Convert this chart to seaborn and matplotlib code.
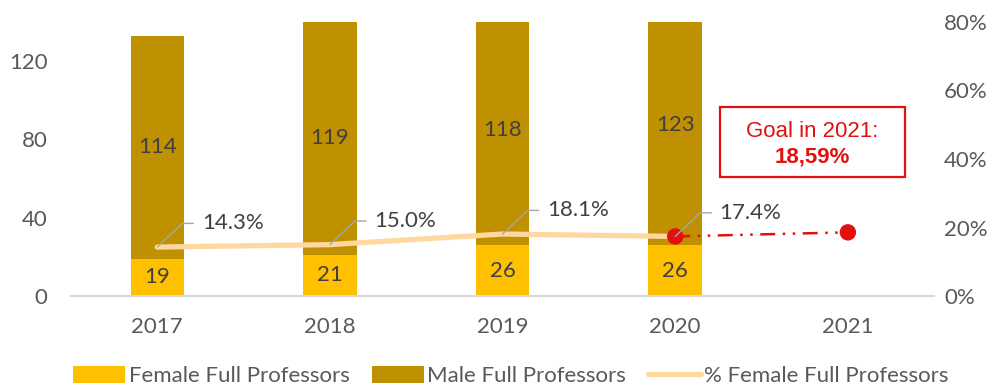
import numpy as np
import pandas as pd
import seaborn as sns
import matplotlib.pyplot as plt
from matplotlib.patches import Patch
from matplotlib.lines import Line2D
from matplotlib.transforms import offset_copy

sns.set_theme(style="white")
plt.rcParams['font.family'] = ['Lato', 'DejaVu Sans']

years = ["2017", "2018", "2019", "2020", "2021"]
bar_years = ["2017", "2018", "2019", "2020"]
female = [19, 21, 26, 26]
male = [114, 119, 118, 123]
pct_female = [0.143, 0.150, 0.181, 0.174]
pct_labels = ["14.3%", "15.0%", "18.1%", "17.4%"]
goal_years = ["2020", "2021"]
goal_pct = [0.174, 0.1859]

FEMALE_C = "#FFC000"
MALE_C = "#BF9000"
LINE_C = "#FFD8A0"
GOAL_C = "#E31010"
TEXT_C = "#595959"
LABEL_C = "#404040"
LEADER_C = "#A6A6A6"
FS = 16

df = pd.DataFrame({"year": bar_years, "female": female, "male": male})
df["total"] = df["female"] + df["male"]

fig = plt.figure(figsize=(9.98, 3.89), dpi=100)
ax = fig.add_axes([0.0711, 0.239, 0.865, 0.7046])

# stacked bars: total (male colour) with the female share drawn over its base
sns.barplot(data=df, x="year", y="total", order=years, color=MALE_C,
            width=0.31, saturation=1, ax=ax, edgecolor="none")
sns.barplot(data=df, x="year", y="female", order=years, color=FEMALE_C,
            width=0.31, saturation=1, ax=ax, edgecolor="none")

ax.set_xlim(-0.5, 4.5)
ax.set_ylim(0, 140)
ax.set_yticks([0, 40, 80, 120])
ax.set_xlabel("")
ax.set_ylabel("")
for s in ["top", "right", "left"]:
    ax.spines[s].set_visible(False)
ax.spines["bottom"].set_color("#D9D9D9")
ax.spines["bottom"].set_linewidth(1.5)
ax.tick_params(axis="y", length=0, pad=17, labelsize=FS, labelcolor=TEXT_C)
ax.tick_params(axis="x", length=0, pad=15, labelsize=FS, labelcolor=TEXT_C)

# value labels inside the bar segments
for i, (f, m) in enumerate(zip(female, male)):
    ax.text(i, f / 2, str(f), ha="center", va="center", fontsize=FS, color=LABEL_C)
    ax.text(i, f + m / 2, str(m), ha="center", va="center", fontsize=FS, color=LABEL_C)

# percentage line on a secondary axis
ax2 = ax.twinx()
xpos = np.arange(len(bar_years))
sns.lineplot(x=xpos, y=pct_female, ax=ax2, color=LINE_C, linewidth=3.8,
             solid_capstyle="round", zorder=3)
gx = [years.index(y) for y in goal_years]
ax2.plot(gx, goal_pct, color=GOAL_C, linewidth=1.8,
         dashes=[6, 3, 1, 3, 1, 3], zorder=4)
sns.scatterplot(x=gx, y=goal_pct, ax=ax2, color=GOAL_C, s=140, edgecolor="none",
                zorder=5)
ax2.set_ylim(0, 0.8)
ax2.set_yticks([0, 0.2, 0.4, 0.6, 0.8])
ax2.set_yticklabels(["0%", "20%", "40%", "60%", "80%"])
ax2.tick_params(axis="y", length=0, pad=7, labelsize=FS, labelcolor=TEXT_C)
ax2.set_ylabel("")
for s in ax2.spines.values():
    s.set_visible(False)
ax2.grid(False)

# data labels with bent leader lines
tr_knee = offset_copy(ax2.transData, fig=fig, x=18, y=17, units="points")
tr_end = offset_copy(ax2.transData, fig=fig, x=26, y=17, units="points")
for i, (p, lab) in enumerate(zip(pct_female, pct_labels)):
    ax2.annotate("", xy=(i, p), xytext=(18, 17), textcoords="offset points",
                 arrowprops=dict(arrowstyle="-", color=LEADER_C, lw=1.0,
                                 shrinkA=0, shrinkB=0), zorder=6)
    ax2.annotate("", xy=(i, p), xycoords=tr_knee, xytext=(i, p), textcoords=tr_end,
                 arrowprops=dict(arrowstyle="-", color=LEADER_C, lw=1.0,
                                 shrinkA=0, shrinkB=0), zorder=6)
    ax2.annotate(lab, xy=(i, p), xytext=(32, 17), textcoords="offset points",
                 ha="left", va="center", fontsize=FS, color=LABEL_C, zorder=6)

# goal box
ax2.text(3.795, 0.479, "Goal in 2021:", ha="center", va="center", fontsize=16,
         color=GOAL_C, family=["Liberation Sans", "DejaVu Sans"], zorder=7)
ax2.text(3.795, 0.406, "18,59%", ha="center", va="center", fontsize=16,
         color=GOAL_C, fontweight="bold", family=["Liberation Sans", "DejaVu Sans"],
         zorder=7)
ax2.add_patch(plt.Rectangle((3.258, 0.347), 1.071, 0.205, fill=False,
                            edgecolor=GOAL_C, linewidth=1.6, zorder=7))

handles = [Patch(facecolor=FEMALE_C, edgecolor="none"),
           Patch(facecolor=MALE_C, edgecolor="none"),
           Line2D([0], [0], color=LINE_C, lw=3.8, solid_capstyle="round")]
fig.legend(handles, ["Female Full Professors", "Male Full Professors",
                     "% Female Full Professors"],
           loc="center left", bbox_to_anchor=(0.062, 0.033), ncol=3, frameon=False,
           fontsize=FS, labelcolor=TEXT_C, handlelength=2.35, handleheight=0.75,
           handletextpad=0.15, columnspacing=1.0, borderpad=0)

fig.savefig("out.png", dpi=100)
